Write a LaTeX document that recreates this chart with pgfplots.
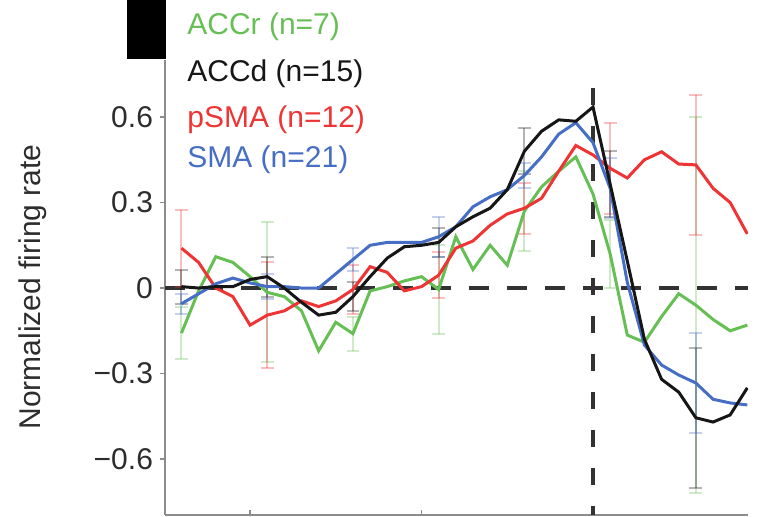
\documentclass[border=0pt]{standalone}
\usepackage{fontspec}
\setmainfont{Liberation Sans}
\usepackage{pgfplots}
\pgfplotsset{compat=1.18}
\usepackage{pgfplotstable}
\definecolor{cgreen}{RGB}{102,191,84}
\definecolor{cred}{RGB}{238,52,52}
\definecolor{cblue}{RGB}{70,110,196}
\definecolor{cblack}{RGB}{22,22,22}
\definecolor{axgray}{RGB}{140,140,140}
\definecolor{txt}{RGB}{45,45,45}

\pgfplotstableread{
t red green black blue
-1.2 0.14 -0.158 0.005 -0.055
-1.15 0.09 -0.01 0.0 -0.02
-1.1 0.0 0.11 0.005 0.015
-1.05 -0.03 0.09 0.005 0.035
-1.0 -0.13 0.04 0.03 0.018
-0.95 -0.095 -0.015 0.04 0.005
-0.9 -0.08 -0.03 0.0 0.005
-0.85 -0.045 -0.08 -0.05 0.0
-0.8 -0.065 -0.22 -0.095 0.0
-0.75 -0.045 -0.12 -0.085 0.05
-0.7 -0.005 -0.16 -0.03 0.10
-0.65 0.075 -0.01 0.04 0.15
-0.6 0.055 0.005 0.105 0.16
-0.55 -0.01 0.025 0.145 0.16
-0.5 0.005 0.04 0.15 0.16
-0.45 0.045 -0.005 0.16 0.18
-0.4 0.14 0.18 0.215 0.215
-0.35 0.165 0.065 0.25 0.285
-0.3 0.22 0.15 0.28 0.32
-0.25 0.26 0.08 0.345 0.345
-0.2 0.28 0.27 0.48 0.395
-0.15 0.315 0.355 0.55 0.46
-0.1 0.41 0.41 0.59 0.54
-0.05 0.50 0.46 0.585 0.58
0 0.467 0.33 0.635 0.51
0.05 0.42 0.12 0.365 0.35
0.1 0.386 -0.165 0.095 0.02
0.15 0.45 -0.19 -0.18 -0.2
0.2 0.478 -0.10 -0.32 -0.27
0.25 0.435 -0.02 -0.365 -0.305
0.3 0.432 -0.06 -0.455 -0.333
0.35 0.35 -0.11 -0.47 -0.39
0.4 0.30 -0.15 -0.445 -0.403
0.45 0.19 -0.13 -0.35 -0.41
}\means

\pgfplotstableread{
t red ered green egreen black eblack blue eblue
-1.2 0.14 0.135 -0.158 0.09 0.005 0.06 -0.055 0.035
-0.95 -0.095 0.185 -0.015 0.245 0.04 0.07 0.005 0.045
-0.7 -0.005 0.085 -0.16 0.06 -0.03 0.05 0.10 0.04
-0.45 0.045 0.08 -0.005 0.155 0.16 0.05 0.18 0.07
-0.2 0.28 0.09 0.27 0.14 0.48 0.08 0.395 0.045
0.05 0.42 0.16 0.12 0.12 0.365 0.115 0.35 0.105
0.3 0.432 0.245 -0.06 0.66 -0.455 0.245 -0.333 0.175
}\sems

\pgfplotsset{
  ebar/.style={forget plot, draw=none, mark=none,
    error bars/.cd, y dir=both, y explicit,
    error bar style={draw=#1, line width=1pt, opacity=0.32},
    error mark options={rotate=90, mark size=3.2pt, draw=#1, line width=1pt, opacity=0.32}},
}

\begin{document}
\begin{tikzpicture}
\useasboundingbox (0,0) rectangle (379.5pt,258.5pt);
\fill[black] (63.5pt,229pt) rectangle (83pt,260pt);
\begin{axis}[
  at={(82.5pt,1pt)}, anchor=south west,
  scale only axis, width=291.5pt, height=227.5pt,
  xmin=-1.248, xmax=0.452, ymin=-0.796, ymax=0.8,
  axis x line=bottom, axis y line=left,
  axis line style={-, axgray, line width=1pt},
  xtick={-1,-0.5,0}, xticklabels={},
  ytick={-0.6,-0.3,0,0.3,0.6},
  yticklabels={−0.6,−0.3,0,0.3,0.6},
  xtick align=inside, ytick align=outside,
  major tick length=2.5pt,
  every tick/.style={axgray, line width=0.8pt},
  yticklabel style={font=\fontsize{15}{18}\selectfont, text=txt},
]
% reference lines
\addplot[forget plot, color={rgb,255:red,50;green,50;blue,50}, line width=1.8pt, dash pattern=on 10pt off 9pt] coordinates {(-1.248,0) (0.452,0)};
\addplot[forget plot, color={rgb,255:red,50;green,50;blue,50}, line width=1.8pt, dash pattern=on 8.5pt off 10.5pt] coordinates {(0,0.70) (0,-0.8)};
% error bars
\addplot[ebar=cgreen] table[x=t, y=green, y error=egreen] {\sems};
\addplot[ebar=cred] table[x=t, y=red, y error=ered] {\sems};
\addplot[ebar=cblack] table[x=t, y=black, y error=eblack] {\sems};
\addplot[ebar=cblue] table[x=t, y=blue, y error=eblue] {\sems};
% means
\addplot[cgreen, line width=1.5pt, mark=none] table[x=t, y=green] {\means};
\addplot[cred, line width=1.5pt, mark=none] table[x=t, y=red] {\means};
\addplot[cblue, line width=1.5pt, mark=none] table[x=t, y=blue] {\means};
\addplot[cblack, line width=1.5pt, mark=none] table[x=t, y=black] {\means};
\end{axis}
\node[rotate=90, font=\fontsize{15}{18}\selectfont, text=txt] at (16.5pt,115pt) {Normalized firing rate};
\node[anchor=base west, inner sep=0pt, font=\fontsize{15}{18}\selectfont, text=cgreen] at (93.5pt,241pt) {ACCr (n=7)};
\node[anchor=base west, inner sep=0pt, font=\fontsize{15}{18}\selectfont, text=cblack] at (93.5pt,217.5pt) {ACCd (n=15)};
\node[anchor=base west, inner sep=0pt, font=\fontsize{15}{18}\selectfont, text=cred] at (93.5pt,194.5pt) {pSMA (n=12)};
\node[anchor=base west, inner sep=0pt, font=\fontsize{15}{18}\selectfont, text=cblue] at (93.5pt,174.5pt) {SMA (n=21)};
\end{tikzpicture}
\end{document}
